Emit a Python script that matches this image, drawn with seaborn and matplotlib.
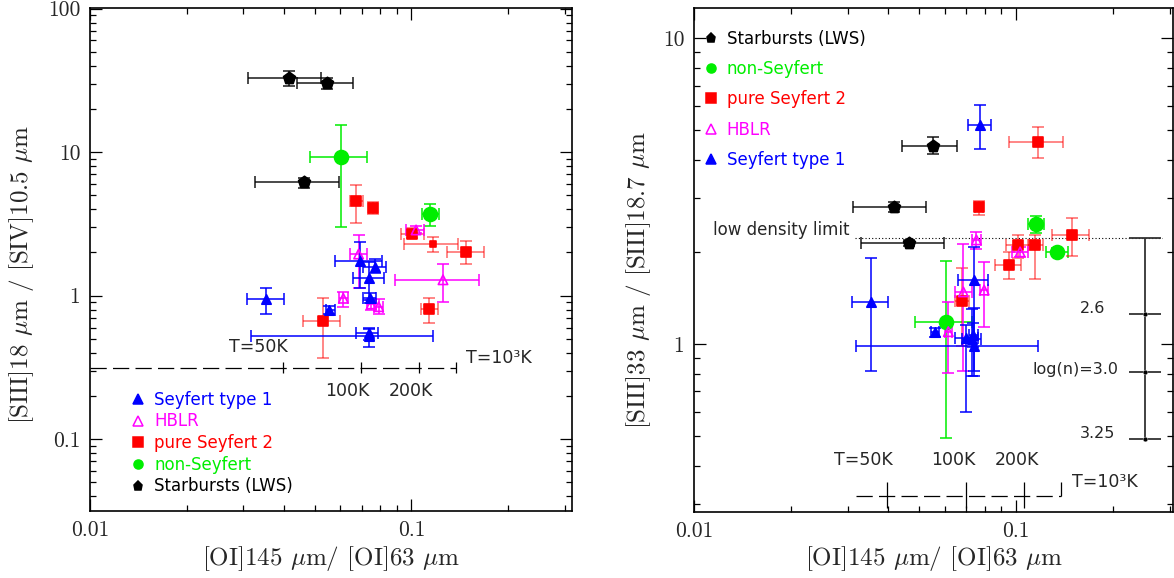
import numpy as np
import pandas as pd
import matplotlib
matplotlib.use('Agg')
import matplotlib.pyplot as plt
import seaborn as sns
from matplotlib.lines import Line2D
from matplotlib.ticker import NullFormatter

# each point: (x, x_lo, x_hi, y, y_lo, y_hi)
# left panel: [SIII]18/[SIV]10.5 vs [OI]145/[OI]63
left_sey1 = [
    (0.0354, 0.0307, 0.0400, 0.944, 0.742, 1.137),
    (0.0556, 0.0541, 0.0577, 0.795, 0.746, 0.848),
    (0.0693, 0.0580, 0.0809, 1.754, 1.126, 2.36),
    (0.0769, 0.0706, 0.0835, 1.59, 1.43, 1.79),
    (0.0737, 0.0657, 0.0819, 1.32, 0.933, 1.73),
    (0.0741, 0.0706, 0.0776, 0.959, 0.885, 1.04),
    (0.0737, 0.0318, 0.1165, 0.526, 0.441, 0.586),
    (0.0737, 0.0673, 0.0785, 0.55, 0.49, 0.60),
]
left_hblr = [
    (0.0685, 0.0645, 0.0725, 1.95, 1.13, 2.65),
    (0.1034, 0.0963, 0.1098, 2.87, 2.72, 3.07),
    (0.1254, 0.0886, 0.1618, 1.29, 0.90, 1.66),
    (0.0614, 0.0595, 0.0634, 0.959, 0.838, 1.066),
    (0.0750, 0.0729, 0.0777, 0.875, 0.795, 0.933),
    (0.0791, 0.0767, 0.0814, 0.838, 0.746, 0.944),
]
left_sey2 = [
    (0.0673, 0.0642, 0.0706, 4.57, 3.21, 5.94),
    (0.0760, 0.0738, 0.0783, 4.10, 3.73, 4.48),
    (0.1005, 0.0929, 0.1092, 2.69, 2.51, 2.96),
    (0.1479, 0.1290, 0.1677, 2.03, 1.66, 2.42),
    (0.1135, 0.1072, 0.1207, 0.812, 0.648, 0.968),
    (0.0529, 0.0460, 0.0598, 0.670, 0.366, 0.968),
]
left_sey2_small = [
    (0.117, 0.0946, 0.1396, 2.30, 2.01, 2.58),
]
left_nonsey = [
    (0.0605, 0.0483, 0.0725, 9.26, 3.03, 15.4),
    (0.1146, 0.1080, 0.1216, 3.73, 3.05, 4.38),
]
left_starburst = [
    (0.0416, 0.0310, 0.0522, 32.7, 28.9, 36.8),
    (0.0547, 0.0440, 0.0656, 30.2, 27.4, 33.0),
    (0.0463, 0.0327, 0.0597, 6.17, 5.66, 6.64),
]

# right panel: [SIII]33/[SIII]18.7 vs [OI]145/[OI]63
right_sey1 = [
    (0.0773, 0.0708, 0.0836, 5.20, 4.34, 6.05),
    (0.0355, 0.0309, 0.0401, 1.369, 0.818, 1.915),
    (0.0742, 0.0318, 0.1173, 0.987, 0.786, 1.314),
    (0.0741, 0.0662, 0.0820, 1.62, 0.818, 2.08),
    (0.0560, 0.0545, 0.0575, 1.095, 1.056, 1.13),
    (0.0699, 0.0646, 0.0763, 1.044, 0.598, 1.15),
    (0.0737, 0.0712, 0.0763, 1.07, 0.98, 1.174),
    (0.0729, 0.0680, 0.0779, 1.04, 0.786, 1.30),
]
right_hblr = [
    (0.0753, 0.0730, 0.0776, 2.19, 2.04, 2.32),
    (0.1029, 0.0970, 0.1092, 2.00, 1.93, 2.08),
    (0.0686, 0.0646, 0.0729, 1.48, 0.816, 2.12),
    (0.0796, 0.0774, 0.0819, 1.50, 1.134, 1.85),
    (0.0616, 0.0600, 0.0632, 1.097, 0.806, 1.369),
]
right_sey2 = [
    (0.1173, 0.0953, 0.1403, 4.59, 4.05, 5.12),
    (0.0768, 0.0746, 0.0790, 2.80, 2.64, 2.94),
    (0.1492, 0.1296, 0.1686, 2.27, 1.94, 2.58),
    (0.1146, 0.1087, 0.1216, 2.10, 1.63, 2.27),
    (0.1014, 0.0931, 0.1100, 2.10, 1.91, 2.27),
    (0.0951, 0.0861, 0.1036, 1.81, 1.63, 2.00),
    (0.0680, 0.0648, 0.0716, 1.385, 0.987, 1.777),
]
right_nonsey = [
    (0.1154, 0.1087, 0.1224, 2.46, 2.30, 2.63),
    (0.1338, 0.1237, 0.1447, 2.00, 1.94, 2.065),
    (0.0606, 0.0486, 0.0730, 1.18, 0.491, 1.87),
]
right_starburst = [
    (0.0551, 0.0442, 0.0656, 4.45, 4.17, 4.75),
    (0.0419, 0.0312, 0.0525, 2.81, 2.71, 2.92),
    (0.0464, 0.0329, 0.0599, 2.135, 2.09, 2.18),
]

# temperature scale (x positions of T ticks) and density scale
temp_ticks = [0.0398, 0.0698, 0.1055]
temp_end = 0.138
temp_y_left = 0.315
temp_y_right = 0.319
low_density_y = 2.218
dens_x = 0.2515
dens_y = [2.218, 1.251, 0.81, 0.489]
dens_labels = ['2.6', 'log(n)=3.0', '3.25']

styles = {
    'Seyfert type 1': dict(marker='^', color='#0000ff', s=46, filled=True, alpha=1.0),
    'HBLR': dict(marker='^', color='#ff00ff', s=46, filled=False, alpha=1.0),
    'pure Seyfert 2': dict(marker='s', color='#ff0000', s=55, filled=True, alpha=0.6),
    'non-Seyfert': dict(marker='o', color='#00ee00', s=100, filled=True, alpha=1.0),
    'Starbursts (LWS)': dict(marker='p', color='black', s=80, filled=True, alpha=0.9),
}

sns.set_style('ticks')
plt.rcParams['font.family'] = ['cmr10', 'DejaVu Serif']
plt.rcParams['mathtext.fontset'] = 'cm'
plt.rcParams['axes.formatter.use_mathtext'] = True
LEG_FONT = 'DejaVu Sans'


def draw_group(ax, points, name, size=None):
    st = styles[name]
    df = pd.DataFrame(points, columns=['x', 'xlo', 'xhi', 'y', 'ylo', 'yhi'])
    ax.errorbar(df.x, df.y,
                xerr=[df.x - df.xlo, df.xhi - df.x],
                yerr=[df.y - df.ylo, df.yhi - df.y],
                fmt='none', ecolor=st['color'], elinewidth=1.1,
                capsize=4, capthick=1.1, alpha=st['alpha'], zorder=2)
    sns.scatterplot(data=df, x='x', y='y', ax=ax, marker=st['marker'],
                    s=size or st['s'], color=st['color'], edgecolor=st['color'],
                    facecolor=st['color'] if st['filled'] else 'none',
                    linewidth=1.2, zorder=3, legend=False)


def style_axes(ax, xlim, ylim, yticks):
    ax.set_xscale('log')
    ax.set_yscale('log')
    ax.set_xlim(*xlim)
    ax.set_ylim(*ylim)
    ax.set_xticks([0.01, 0.1])
    ax.set_xticklabels(['0.01', '0.1'])
    ax.set_yticks(yticks)
    ax.set_yticklabels([('%g' % t) for t in yticks])
    ax.xaxis.set_minor_formatter(NullFormatter())
    ax.yaxis.set_minor_formatter(NullFormatter())
    ax.tick_params(which='both', direction='in', top=True, right=True,
                   color='black', width=0.9, labelsize=15.5)
    ax.tick_params(which='major', length=8.5)
    ax.tick_params(which='minor', length=4)
    ax.tick_params(axis='x', pad=7)
    ax.tick_params(axis='y', pad=7)
    for sp in ax.spines.values():
        sp.set_linewidth(1.2)
        sp.set_color('black')


def make_legend(ax, order, anchor, spacing):
    handles = []
    for name in order:
        st = styles[name]
        handles.append(Line2D([], [], linestyle='none', marker=st['marker'],
                              color=st['color'], markersize=6.5,
                              markerfacecolor=st['color'] if st['filled'] else 'none',
                              markeredgewidth=1.1))
    ax.legend(handles, order, loc='upper left', bbox_to_anchor=anchor,
              frameon=False, borderpad=0, borderaxespad=0, handlelength=1,
              handletextpad=0.45, labelspacing=spacing,
              labelcolor=[styles[n]['color'] for n in order],
              prop={'family': LEG_FONT, 'size': 12})


fig = plt.figure(figsize=(11.74, 5.78), dpi=100)
ax1 = fig.add_axes([90 / 1174, 67 / 578, 482 / 1174, 503 / 578])
ax2 = fig.add_axes([694 / 1174, 66.3 / 578, 479 / 1174, 503.7 / 578])

for ax in (ax1, ax2):
    ax.set_xscale('log')
    ax.set_yscale('log')

# ---- left panel ----
draw_group(ax1, left_starburst, 'Starbursts (LWS)')
draw_group(ax1, left_nonsey, 'non-Seyfert')
draw_group(ax1, left_sey2, 'pure Seyfert 2')
draw_group(ax1, left_sey2_small, 'pure Seyfert 2', size=18)
draw_group(ax1, left_hblr, 'HBLR')
draw_group(ax1, left_sey1, 'Seyfert type 1')
style_axes(ax1, (0.01, 0.316), (0.0316, 101), [0.1, 1, 10, 100])

dash = (0, (13, 5))
ax1.plot([0.01, temp_end], [temp_y_left, temp_y_left], color='black', lw=0.9, ls=dash, zorder=1)
ax1.vlines(temp_ticks + [temp_end], temp_y_left / 1.095, temp_y_left * 1.1, color='black', lw=0.9)
ax1.text(0.0334, 0.437, 'T=50K', ha='center', va='center', fontsize=12.5, family=LEG_FONT)
ax1.text(0.0634, 0.218, '100K', ha='center', va='center', fontsize=12.5, family=LEG_FONT)
ax1.text(0.100, 0.218, '200K', ha='center', va='center', fontsize=12.5, family=LEG_FONT)
ax1.text(0.1876, 0.37, 'T=10³K', ha='center', va='center', fontsize=12.5, family=LEG_FONT)

make_legend(ax1, ['Seyfert type 1', 'HBLR', 'pure Seyfert 2', 'non-Seyfert', 'Starbursts (LWS)'],
            (0.083, 0.239), 0.22)

ax1.set_xlabel(r'[OI]145 $\mu$m/ [OI]63 $\mu$m', fontsize=18)
ax1.set_ylabel(r'[SIII]18 $\mu$m / [SIV]10.5 $\mu$m', fontsize=18)
ax1.xaxis.set_label_coords(0.5, -0.065)
ax1.yaxis.set_label_coords(-0.113, 0.47)

# ---- right panel ----
draw_group(ax2, right_starburst, 'Starbursts (LWS)')
draw_group(ax2, right_nonsey, 'non-Seyfert')
draw_group(ax2, right_sey2, 'pure Seyfert 2')
draw_group(ax2, right_hblr, 'HBLR')
draw_group(ax2, right_sey1, 'Seyfert type 1')
style_axes(ax2, (0.01, 0.307), (0.2826, 12.56), [1, 10])

ax2.plot([0.0318, temp_end], [temp_y_right, temp_y_right], color='black', lw=0.9, ls=dash, zorder=1)
ax2.vlines(temp_ticks, 0.291, 0.354, color='black', lw=0.9)
ax2.vlines([temp_end], temp_y_right, 0.354, color='black', lw=0.9)
ax2.text(0.0335, 0.417, 'T=50K', ha='center', va='center', fontsize=12.5, family=LEG_FONT)
ax2.text(0.0637, 0.417, '100K', ha='center', va='center', fontsize=12.5, family=LEG_FONT)
ax2.text(0.1005, 0.417, '200K', ha='center', va='center', fontsize=12.5, family=LEG_FONT)
ax2.text(0.1883, 0.354, 'T=10³K', ha='center', va='center', fontsize=12.5, family=LEG_FONT)

# low density limit
ax2.plot([0.0316, 0.2835], [low_density_y, low_density_y], color='black', lw=0.8, ls=(0, (1, 2)), zorder=1)
ax2.text(0.01863, 2.36, 'low density limit', ha='center', va='center', fontsize=12, family=LEG_FONT)

# density bar
ax2.vlines([dens_x], min(dens_y), max(dens_y), color='#333333', lw=1.3)
ax2.hlines(dens_y, dens_x / 1.12, dens_x * 1.12, color='#333333', lw=1.3)
sns.scatterplot(x=[dens_x] * 3, y=dens_y[1:], ax=ax2, color='black', s=12, zorder=4, legend=False)
for (tx, ty), lab in zip([(0.1722, 1.309), (0.1525, 0.822), (0.1794, 0.51)], dens_labels):
    ax2.text(tx, ty, lab, ha='center', va='center', fontsize=11.5, family=LEG_FONT)

make_legend(ax2, ['Starbursts (LWS)', 'non-Seyfert', 'pure Seyfert 2', 'HBLR', 'Seyfert type 1'],
            (0.0175, 0.957), 0.74)

ax2.set_xlabel(r'[OI]145 $\mu$m/ [OI]63 $\mu$m', fontsize=18)
ax2.set_ylabel(r'[SIII]33 $\mu$m / [SIII]18.7 $\mu$m', fontsize=18)
ax2.xaxis.set_label_coords(0.5, -0.065)
ax2.yaxis.set_label_coords(-0.086, 0.46)

fig.savefig('out.png', dpi=100)
